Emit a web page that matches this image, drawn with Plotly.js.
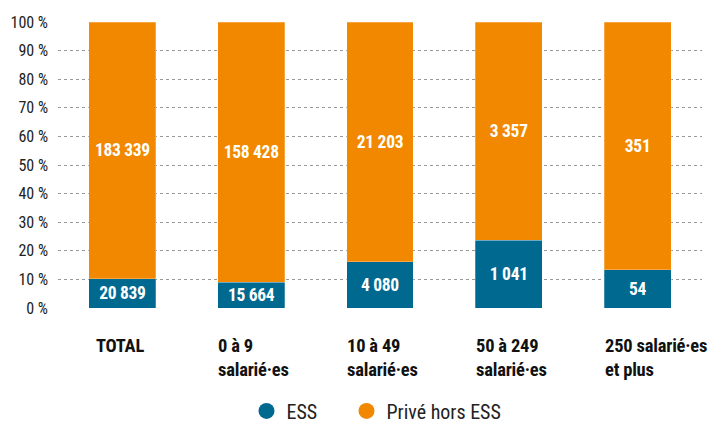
<!DOCTYPE html>
<html><head><meta charset="utf-8">
<script src="https://cdn.plot.ly/plotly-3.0.1.min.js"></script>
<style>html,body{margin:0;padding:0;background:#fff}#chart{width:712px;height:426px}
#chart .bartext{letter-spacing:-0.3px}
#chart .annotation-text{letter-spacing:-0.2px}</style>
</head><body><div id="chart"></div>
<script>
const categories = ["TOTAL", "0 à 9<br>salarié·es", "10 à 49<br>salarié·es", "50 à 249<br>salarié·es", "250 salarié·es<br>et plus"];
const essValues = [20839, 15664, 4080, 1041, 54];
const priveValues = [183339, 158428, 21203, 3357, 351];
const seriesNames = ["ESS", "Privé hors ESS"];
const yTicks = [0, 10, 20, 30, 40, 50, 60, 70, 80, 90, 100];

const BLUE = "#006990", ORANGE = "#f18800";
const FONT = "'Roboto Condensed', Roboto, sans-serif";
const fmt = v => String(v).replace(/\B(?=(\d{3})+(?!\d))/g, " ");

const barCommon = {
  type: "bar", x: categories, showlegend: false,
  textposition: "inside", insidetextanchor: "middle", constraintext: "none", textangle: 0,
  textfont: {family: FONT, size: 17.5, color: "#ffffff", weight: "bold"},
  hoverinfo: "skip"
};
const traces = [
  Object.assign({}, barCommon, {y: essValues, name: seriesNames[0], text: essValues.map(v => "<b>" + fmt(v) + "</b>"),
    marker: {color: BLUE, line: {color: "rgba(255,255,255,0.5)", width: 0.5}}}),
  Object.assign({}, barCommon, {y: priveValues, name: seriesNames[1], text: priveValues.map(v => "<b>" + fmt(v) + "</b>"),
    marker: {color: ORANGE, line: {color: "rgba(255,255,255,0.5)", width: 0.5}}}),
  {type: "scatter", mode: "markers", x: [categories[0]], y: [null], name: seriesNames[0], legend: "legend",
    marker: {symbol: "circle", size: 21, color: BLUE}, hoverinfo: "skip"},
  {type: "scatter", mode: "markers", x: [categories[0]], y: [null], name: seriesNames[1], legend: "legend2",
    marker: {symbol: "circle", size: 21, color: ORANGE}, hoverinfo: "skip"}
];

const annotations = categories.map((c, i) => {
  const single = c.indexOf("<br>") < 0;
  return {
    x: c, xref: "x", y: 0, yref: "paper", yshift: -25, yanchor: "top",
    xanchor: single ? "center" : "left", align: "left", xshift: single ? -2 : -35,
    text: "<b>" + c + "</b>", showarrow: false,
    font: {family: FONT, size: 18.5, color: "#111"}
  };
});

const legendCommon = {orientation: "h", xanchor: "left", y: -0.36, yanchor: "middle",
  font: {family: FONT, size: 20, color: "#222"}, itemwidth: 30, bgcolor: "rgba(0,0,0,0)"};

const layout = {
  width: 712, height: 426,
  margin: {l: 58, r: 10, t: 22, b: 118, autoexpand: false},
  paper_bgcolor: "#fff", plot_bgcolor: "#fff",
  barmode: "stack", barnorm: "percent", bargap: 0.48,
  font: {family: FONT, color: "#222"},
  xaxis: {type: "category", range: [-0.5, 4.5], automargin: false, showticklabels: false, showgrid: false, zeroline: false, showline: false, ticks: ""},
  yaxis: {range: [0, 100], automargin: false, tickvals: yTicks, ticktext: yTicks.map(v => v + " %"),
    showgrid: true, gridcolor: "#9a9a9a", griddash: "dot", gridwidth: 1,
    zeroline: false, showline: false, ticks: "", ticklabelstandoff: 9,
    tickfont: {family: FONT, size: 16, color: "#222"}},
  showlegend: true,
  legend: Object.assign({}, legendCommon, {x: 0.2927}),
  legend2: Object.assign({}, legendCommon, {x: 0.448}),
  annotations: annotations
};
Plotly.newPlot("chart", traces, layout, {displayModeBar: false, staticPlot: true});
</script></body></html>
